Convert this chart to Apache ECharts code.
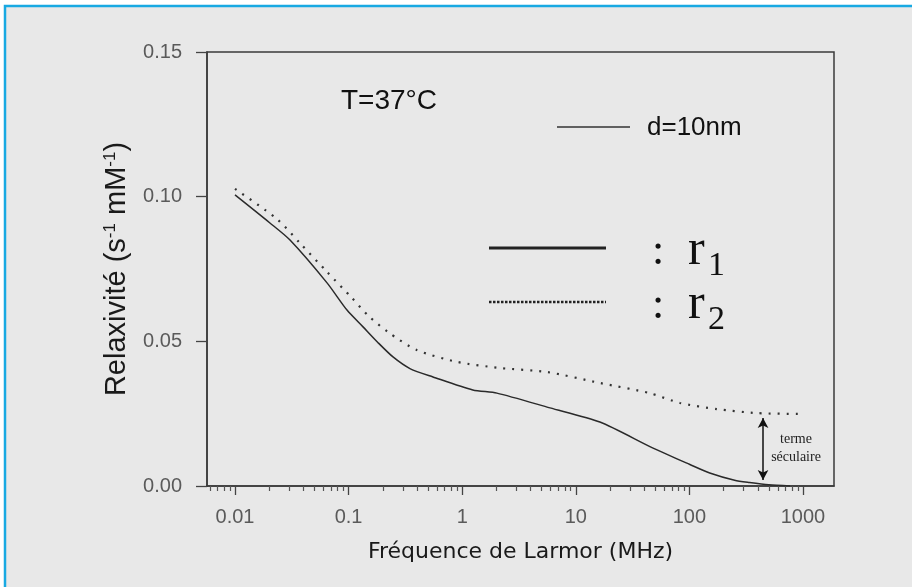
<!DOCTYPE html>
<html>
<head>
    <meta charset="utf-8">
    <script src="https://cdn.jsdelivr.net/npm/echarts@6/dist/echarts.min.js"></script>
    <style>
        html, body { margin: 0; padding: 0; background: #fff; }
    </style>
</head>

<body>
<div id="main" style="width: 912px;height:587px;"></div>
<script type="text/javascript">
    // frequences (MHz) et relaxivites
    var freqR1 = [0.01, 0.0203, 0.0305, 0.0646, 0.0968, 0.134, 0.18, 0.246, 0.35, 0.553, 1.24, 2.02, 5.93, 16.3, 47.9, 100, 151, 250, 339, 500, 769];
    var r1 = [0.1006, 0.0909, 0.085, 0.0702, 0.0608, 0.055, 0.0497, 0.0446, 0.0405, 0.0377, 0.0332, 0.0321, 0.027, 0.0221, 0.0131, 0.0075, 0.0045, 0.002, 0.0012, 0.0004, 0.0];

    var freqR2 = [0.01, 0.0234, 0.0372, 0.0646, 0.107, 0.148, 0.222, 0.398, 0.9, 2.14, 5.57, 16.3, 44.7, 82.6, 174, 394, 933];
    var r2 = [0.1027, 0.0923, 0.084, 0.074, 0.065, 0.059, 0.0532, 0.047, 0.0429, 0.0408, 0.0394, 0.0356, 0.0321, 0.0287, 0.0266, 0.0252, 0.0249];

    // graduations
    var xTicks = [0.01, 0.1, 1, 10, 100, 1000];
    var xMinorTicks = [0.006, 0.007, 0.008, 0.009,
        0.02, 0.03, 0.04, 0.05, 0.06, 0.07, 0.08, 0.09,
        0.2, 0.3, 0.4, 0.5, 0.6, 0.7, 0.8, 0.9,
        2, 3, 4, 5, 6, 7, 8, 9,
        20, 30, 40, 50, 60, 70, 80, 90,
        200, 300, 400, 500, 600, 700, 800, 900];

    // terme seculaire (fleche)
    var arrowFreq = 445;
    var arrowTop = 0.0235;
    var arrowBottom = 0.0021;

    var xMin = 0.00567, xMax = 1875;

    function pairs(xs, ys) {
        return xs.map(function (x, i) { return [x, ys[i]]; });
    }

    var labelFont = "'Liberation Sans', Arial, sans-serif";
    var myChart = echarts.init(document.getElementById('main'));

    option = {
        animation: false,
        backgroundColor: '#ffffff',
        grid: {
            left: 207, right: 78, top: 52, bottom: 101,
            show: true,
            borderColor: '#3a3a3a',
            borderWidth: 1.5,
            backgroundColor: 'transparent'
        },
        xAxis: [{
            type: 'log',
            logBase: 10,
            min: xMin,
            max: xMax,
            position: 'bottom',
            name: 'Fréquence de Larmor (MHz)',
            nameLocation: 'middle',
            nameGap: 55,
            nameTextStyle: { fontFamily: "'DejaVu Sans', sans-serif", fontSize: 22, color: '#1a1a1a' },
            axisLine: { lineStyle: { color: '#3a3a3a', width: 1.5 } },
            axisTick: { customValues: xTicks, length: 9, lineStyle: { color: '#444', width: 1.3 } },
            axisLabel: {
                customValues: xTicks,
                margin: 21,
                fontFamily: labelFont,
                fontSize: 20,
                color: '#5a5a5a',
                formatter: function (v) {
                    return v >= 1 ? String(Math.round(v)) : String(Number(v.toPrecision(1)));
                }
            },
            splitLine: { show: false },
            minorTick: { show: false }
        }, {
            type: 'log',
            logBase: 10,
            min: xMin,
            max: xMax,
            position: 'bottom',
            axisLine: { show: false },
            axisTick: { customValues: xMinorTicks, length: 5, lineStyle: { color: '#555', width: 1.2 } },
            axisLabel: { show: false },
            splitLine: { show: false }
        }],
        yAxis: {
            type: 'value',
            min: 0,
            max: 0.15,
            interval: 0.05,
            name: 'Relaxivité (s{sup|-1} mM{sup|-1})',
            nameLocation: 'middle',
            nameGap: 76,
            nameTextStyle: {
                fontFamily: labelFont, fontSize: 29, color: '#1a1a1a',
                rich: { sup: { fontFamily: labelFont, fontSize: 17, color: '#1a1a1a', verticalAlign: 'top' } }
            },
            axisLine: { lineStyle: { color: '#3a3a3a', width: 1.5 } },
            axisTick: { length: 11, lineStyle: { color: '#444', width: 1.3 } },
            axisLabel: {
                margin: 25,
                fontFamily: labelFont,
                fontSize: 20,
                color: '#5a5a5a',
                formatter: function (v) { return v.toFixed(2); }
            },
            splitLine: { show: false }
        },
        graphic: [
            { type: 'rect', z: -10, shape: { x: 5, y: 6, width: 1000, height: 1000 },
              style: { fill: '#e8e8e8', stroke: '#18a9e2', lineWidth: 2.5 } },
            { type: 'text', x: 341, y: 101, style: { text: 'T=37°C', font: "28px 'Liberation Sans', Arial", fill: '#111', verticalAlign: 'middle' } },
            { type: 'line', shape: { x1: 557, y1: 127, x2: 630, y2: 127 }, style: { stroke: '#333', lineWidth: 1.3 } },
            { type: 'text', x: 647, y: 128, style: { text: 'd=10nm', font: "26px 'Liberation Sans', Arial", fill: '#111', verticalAlign: 'middle' } },
            { type: 'line', shape: { x1: 489, y1: 248, x2: 606, y2: 248 }, style: { stroke: '#222', lineWidth: 3 } },
            { type: 'line', shape: { x1: 489, y1: 302, x2: 606, y2: 302 }, style: { stroke: '#222', lineWidth: 2.5, lineDash: [2.5, 1.5] } },
            { type: 'text', x: 652, y: 252, style: { text: ':', font: "44px 'Liberation Serif', serif", fill: '#111', verticalAlign: 'middle' } },
            { type: 'text', x: 688, y: 251, style: { text: 'r', font: "50px 'Liberation Serif', serif", fill: '#111', verticalAlign: 'middle' } },
            { type: 'text', x: 708, y: 266, style: { text: '1', font: "34px 'Liberation Serif', serif", fill: '#111', verticalAlign: 'middle' } },
            { type: 'text', x: 652, y: 306, style: { text: ':', font: "44px 'Liberation Serif', serif", fill: '#111', verticalAlign: 'middle' } },
            { type: 'text', x: 688, y: 305, style: { text: 'r', font: "50px 'Liberation Serif', serif", fill: '#111', verticalAlign: 'middle' } },
            { type: 'text', x: 708, y: 320, style: { text: '2', font: "34px 'Liberation Serif', serif", fill: '#111', verticalAlign: 'middle' } },
            { type: 'text', x: 796, y: 439, style: { text: 'terme', font: "14px 'Liberation Serif', serif", fill: '#222', align: 'center', verticalAlign: 'middle' } },
            { type: 'text', x: 796, y: 457, style: { text: 'séculaire', font: "14px 'Liberation Serif', serif", fill: '#222', align: 'center', verticalAlign: 'middle' } }
        ],
        series: [
            {
                name: 'r1',
                type: 'line',
                xAxisIndex: 0,
                data: pairs(freqR1, r1),
                showSymbol: false,
                smooth: 0.25,
                lineStyle: { color: '#2a2a2a', width: 1.5 }
            },
            {
                name: 'r2',
                type: 'line',
                xAxisIndex: 0,
                data: pairs(freqR2, r2),
                showSymbol: false,
                smooth: 0.25,
                lineStyle: { color: '#333', width: 2.2, type: [2, 7] },
                markLine: {
                    silent: true,
                    symbol: ['arrow', 'arrow'],
                    symbolSize: [8, 10],
                    label: { show: false },
                    lineStyle: { color: '#111', width: 1.5, type: 'solid' },
                    data: [[{ coord: [arrowFreq, arrowTop] }, { coord: [arrowFreq, arrowBottom] }]]
                }
            }
        ]
    };

    myChart.setOption(option);
</script>
</body>
</html>
